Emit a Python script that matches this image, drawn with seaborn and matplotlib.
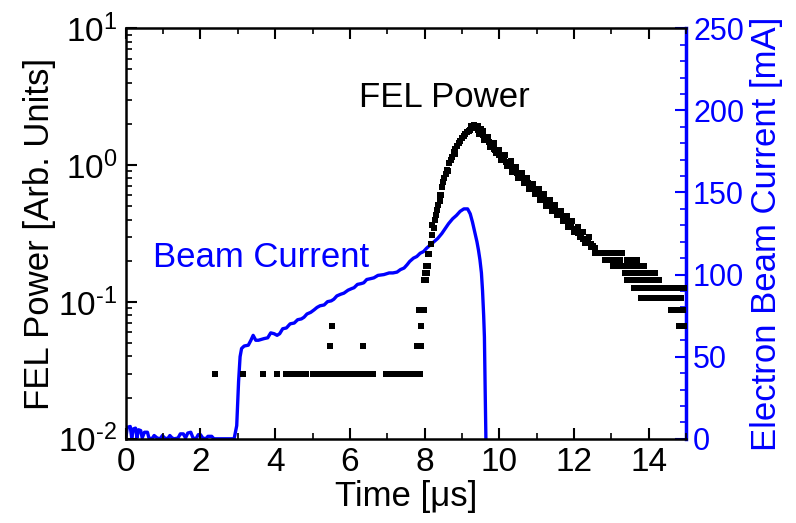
import numpy as np
import pandas as pd
import matplotlib
matplotlib.use("Agg")
import matplotlib.pyplot as plt
import matplotlib.ticker as mticker
import seaborn as sns

# --- Data ---
# Electron beam current (right axis, mA)
beam_time = [0.00, 0.04, 0.12, 0.16, 0.20, 0.26, 0.30, 0.34, 0.40, 0.44, 0.50, 0.58, 0.62,
             0.70, 0.76, 0.84, 0.92, 0.98, 1.04, 1.12, 1.18, 1.24, 1.30, 1.40, 1.46, 1.54,
             1.60, 1.66, 1.74, 1.80, 1.88, 1.94, 2.00, 2.06, 2.14, 2.20, 2.30, 2.36, 2.90,
             2.97, 3.02, 3.06, 3.10, 3.17, 3.28, 3.35, 3.41, 3.48, 3.55, 3.70, 3.80, 3.88,
             3.97, 4.05, 4.12, 4.20, 4.30, 4.40, 4.51, 4.60, 4.70, 4.77, 4.85, 4.95, 5.04,
             5.12, 5.20, 5.31, 5.40, 5.50, 5.57, 5.65, 5.75, 5.84, 5.95, 6.05, 6.11, 6.20,
             6.30, 6.37, 6.45, 6.55, 6.64, 6.75, 6.91, 7.05, 7.15, 7.26, 7.35, 7.45, 7.53,
             7.60, 7.70, 7.79, 7.88, 7.97, 8.05, 8.15, 8.25, 8.35, 8.46, 8.55, 8.64, 8.75,
             8.85, 8.95, 9.05, 9.15, 9.22, 9.28, 9.35, 9.40, 9.44, 9.48, 9.52, 9.55, 9.58,
             9.60, 9.62, 9.64]
beam_ma = [0, 7, 7.5, 0.5, 6, 6.5, 0.5, 5.5, 5, 0.5, 4, 4, 0.5,
           0, 2, 0.5, 0, 2, 0.5, 0, 2, 0.5, 0, 0.5, 3, 3,
           0.5, 3.5, 4, 0.5, 0, 2.5, 2.5, 0.5, 0, 1.5, 1.5, 0, 0,
           8, 35, 50, 55, 56.5, 57, 60, 63, 60, 60, 61, 61.5, 64.5,
           64, 63, 64, 67, 67.5, 70, 70.5, 72.5, 73, 74, 76, 77, 78.5,
           80, 81, 81.5, 83.5, 84, 85, 87, 88, 88.7, 90.5, 91.5, 92, 94,
           94.5, 95, 97, 97.5, 98, 99.5, 100, 101, 101, 101.5, 103, 104, 106,
           108, 110, 111, 113, 114, 116, 118, 120, 122, 125, 128, 131, 134,
           136, 138.5, 140, 140, 137, 132, 125, 120, 115, 109, 101, 90, 75,
           62, 30, 0]

# FEL power (left axis, arb. units) - main trace
fel_time = [2.39, 3.15, 3.68, 4.05, 4.30, 4.39, 4.48, 4.57, 4.66, 4.75, 4.82, 5.00, 5.09,
            5.18, 5.27, 5.36, 5.45, 5.54, 5.63, 5.72, 5.79, 5.93, 6.02, 6.11, 6.20, 6.30,
            6.46, 6.55, 6.63, 6.97, 7.10, 7.24, 7.33, 7.42, 7.51, 7.60, 7.69, 7.78, 7.87,
            5.48, 6.35, 7.79, 7.84, 7.90, 5.51, 7.90, 7.86, 7.93, 7.97,
            7.99, 8.04, 8.01, 8.07, 8.04, 8.10, 8.08, 8.13, 8.16,
            8.19, 8.21, 8.27, 8.30, 8.34, 8.37, 8.40, 8.42, 8.46, 8.50, 8.53, 8.57, 8.60,
            8.66, 8.70, 8.73, 8.78, 8.82, 8.86, 8.91, 8.95, 9.00, 9.05, 9.09, 9.14, 9.18,
            9.22, 9.27, 9.31, 9.36, 9.40, 9.44, 9.48, 9.52, 9.57, 9.62, 9.66, 9.71, 9.75,
            9.80, 9.85, 9.89, 9.94, 10.00, 10.06, 10.12, 10.18, 10.24, 10.30, 10.36, 10.42,
            10.48, 10.54, 10.60, 10.66, 10.72, 10.77, 10.83, 10.89, 10.95, 11.01, 11.07,
            11.13, 11.19, 11.26, 11.31, 11.38, 11.44, 11.50, 11.57, 11.64, 11.71, 11.78,
            11.85, 11.93, 12.00, 12.05, 12.11, 12.18, 12.24, 12.30, 12.37, 12.44, 12.50,
            12.57]
fel_power = [0.03, 0.03, 0.03, 0.03, 0.03, 0.03, 0.03, 0.03, 0.03, 0.03, 0.03, 0.03, 0.03,
             0.03, 0.03, 0.03, 0.03, 0.03, 0.03, 0.03, 0.03, 0.03, 0.03, 0.03, 0.03, 0.03,
             0.03, 0.03, 0.03, 0.03, 0.03, 0.03, 0.03, 0.03, 0.03, 0.03, 0.03, 0.03, 0.03,
             0.048, 0.048, 0.048, 0.048, 0.048, 0.067, 0.067, 0.087, 0.087, 0.087,
             0.145, 0.145, 0.163, 0.163, 0.183, 0.183, 0.224, 0.224, 0.265,
             0.308, 0.365, 0.40, 0.43, 0.47, 0.51, 0.55, 0.60, 0.695, 0.75, 0.80, 0.86, 0.92,
             1.03, 1.09, 1.15, 1.24, 1.32, 1.38, 1.44, 1.50, 1.57, 1.62, 1.68, 1.74, 1.78,
             1.80, 1.86, 1.88, 1.90, 1.86, 1.82, 1.78, 1.70, 1.66, 1.60, 1.54, 1.48, 1.42,
             1.38, 1.32, 1.28, 1.24, 1.19, 1.15, 1.10, 1.06, 1.03, 0.99, 0.95, 0.92,
             0.88, 0.85, 0.82, 0.79, 0.77, 0.74, 0.71, 0.68, 0.66, 0.63, 0.61,
             0.59, 0.57, 0.54, 0.53, 0.51, 0.49, 0.48, 0.46, 0.43, 0.42, 0.40,
             0.38, 0.36, 0.34, 0.33, 0.32, 0.30, 0.29, 0.28, 0.275, 0.265, 0.255,
             0.246]

# lower edge of the noisy band
band_low_time = [8.25, 8.44, 8.62, 8.80, 9.25, 9.33, 9.42, 9.45, 9.50, 9.60, 9.75, 9.90,
                 10.05, 10.20, 10.35, 10.50, 10.65, 10.80, 10.95, 11.10, 11.25, 11.40,
                 11.55, 11.70, 11.85, 12.00, 12.15, 12.30, 12.45]
band_low_power = [0.345, 0.60, 0.90, 1.20, 1.92, 1.96, 1.94, 1.70, 1.85, 1.52, 1.36, 1.22,
                  1.09, 0.98, 0.89, 0.81, 0.74, 0.67, 0.61, 0.555, 0.505, 0.465,
                  0.43, 0.39, 0.355, 0.325, 0.30, 0.27, 0.25]

# upper edge of the noisy band
band_high_time = [9.55, 9.70, 9.85, 10.00, 10.15, 10.30, 10.45, 10.60, 10.75, 10.90,
                  11.05, 11.20, 11.35, 11.50, 11.65, 11.80, 11.95, 12.10, 12.25, 12.40]
band_high_power = [1.78, 1.60, 1.45, 1.30, 1.18, 1.07, 0.97, 0.88, 0.80, 0.73,
                   0.67, 0.61, 0.56, 0.51, 0.465, 0.425, 0.39, 0.355, 0.325, 0.30]

# digitised tail: power levels and the times at which each level appears
tail_levels = [0.229, 0.203, 0.183, 0.164, 0.145, 0.126, 0.106, 0.0875, 0.067]
tail_times = [
    [12.56, 12.64, 12.72, 12.80, 12.88, 12.96, 13.04, 13.12, 13.20, 13.28],
    [12.84, 12.92, 13.00, 13.08, 13.16, 13.24, 13.41, 13.50, 13.60, 13.68],
    [13.04, 13.12, 13.20, 13.28, 13.36, 13.44, 13.52, 13.60, 13.68, 13.78, 13.87],
    [13.36, 13.44, 13.52, 13.60, 13.68, 13.77, 13.86, 14.01, 14.09, 14.17],
    [13.42, 13.50, 13.62, 13.70, 13.78, 13.86, 13.94, 14.02, 14.10, 14.18, 14.26],
    [13.60, 13.68, 13.78, 13.92, 14.00, 14.08, 14.16, 14.24, 14.32, 14.40, 14.48,
     14.56, 14.64, 14.78, 14.86, 14.95],
    [13.80, 13.88, 13.96, 14.02, 14.14, 14.22, 14.30, 14.38, 14.46, 14.54, 14.62,
     14.70, 14.78, 14.86],
    [14.60, 14.68, 14.76, 14.84, 14.92],
    [14.82, 14.90, 14.97],
]

# --- Build tables ---
beam_df = pd.DataFrame({"time": beam_time, "current": beam_ma})
tail_t = [t for ts in tail_times for t in ts]
tail_p = [lvl for lvl, ts in zip(tail_levels, tail_times) for _ in ts]
fel_df = pd.DataFrame({
    "time": fel_time + band_low_time + band_high_time + tail_t,
    "power": fel_power + band_low_power + band_high_power + tail_p,
})

# --- Style ---
sns.set_style("ticks")
plt.rcParams["font.family"] = ["Liberation Sans", "DejaVu Sans"]
plt.rcParams["mathtext.fontset"] = "custom"
plt.rcParams["mathtext.rm"] = "Liberation Sans"
plt.rcParams["mathtext.it"] = "Liberation Sans:italic"
plt.rcParams["text.color"] = "black"
plt.rcParams["axes.labelcolor"] = "black"
plt.rcParams["xtick.color"] = "black"
plt.rcParams["ytick.color"] = "black"
BLUE = "#0000ff"
FS = 25

fig = plt.figure(figsize=(7.96, 5.23), dpi=100)
ax = fig.add_axes([0.158, 0.161, 0.704, 0.785])
ax2 = ax.twinx()

# FEL power as black squares
sns.scatterplot(data=fel_df, x="time", y="power", ax=ax, marker="s", s=17,
                color="black", linewidth=0, zorder=3)
ax.set_yscale("log")
ax.set_ylim(1e-2, 1e1)
ax.set_xlim(0, 15)

# beam current line on right axis
sns.lineplot(data=beam_df, x="time", y="current", ax=ax2, color=BLUE, linewidth=2.4,
             sort=False, estimator=None, zorder=2)
ax2.set_ylim(0, 250)
ax2.set_xlim(0, 15)

ax.set_zorder(ax2.get_zorder() + 1)
ax.patch.set_visible(False)

# --- Axes cosmetics ---
ax.set_xlabel("Time [μs]", fontsize=FS, labelpad=1)
ax.set_ylabel("FEL Power [Arb. Units]", fontsize=FS, labelpad=2)
ax2.set_ylabel("Electron Beam Current [mA]", fontsize=FS, color=BLUE, labelpad=4)
ax2.set_xlabel("")


def decade_label(val, pos):
    exp = int(round(np.log10(val)))
    sign = r"\text{-}" if exp < 0 else ""
    return r"$\mathdefault{10^{%s%d}}$" % (sign, abs(exp))


ax.xaxis.set_major_locator(mticker.MultipleLocator(2))
ax.xaxis.set_minor_locator(mticker.MultipleLocator(1))
ax.yaxis.set_major_locator(mticker.LogLocator(base=10, numticks=10))
ax.yaxis.set_major_formatter(mticker.FuncFormatter(decade_label))
ax.yaxis.set_minor_locator(mticker.LogLocator(base=10, subs=np.arange(2, 10), numticks=20))
ax.yaxis.set_minor_formatter(mticker.NullFormatter())
ax2.yaxis.set_major_locator(mticker.MultipleLocator(50))
ax2.yaxis.set_minor_locator(mticker.MultipleLocator(10))

ax.tick_params(axis="both", which="major", direction="in", length=8, width=1.5,
               labelsize=FS - 1, top=True, right=False, pad=6)
ax.tick_params(axis="both", which="minor", direction="in", length=4, width=1.2,
               top=True, right=False)
ax2.tick_params(axis="y", which="major", direction="in", length=8, width=1.5,
                colors=BLUE, labelsize=FS - 3, pad=5)
ax2.tick_params(axis="y", which="minor", direction="in", length=4, width=1.2, colors=BLUE)

for name in ["left", "bottom", "top"]:
    ax.spines[name].set_linewidth(1.8)
    ax.spines[name].set_color("black")
ax.spines["right"].set_visible(False)
for name in ["left", "bottom", "top"]:
    ax2.spines[name].set_visible(False)
ax2.spines["right"].set_color(BLUE)
ax2.spines["right"].set_linewidth(2.5)

# --- Annotations ---
ax.text(6.25, 3.1, "FEL Power", fontsize=FS, color="black", va="center", ha="left")
ax.text(0.72, 0.21, "Beam Current", fontsize=FS, color=BLUE, va="center", ha="left")

fig.savefig("out.png", dpi=100)
